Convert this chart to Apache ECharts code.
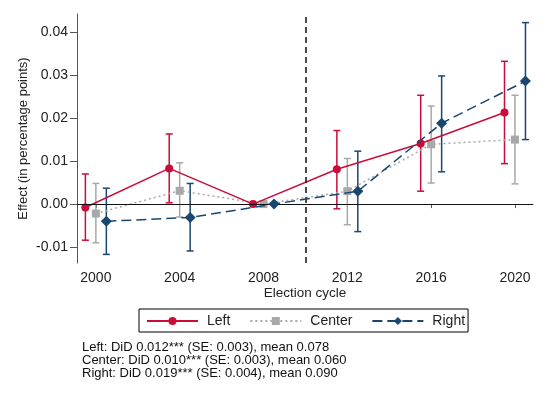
<!DOCTYPE html>
<html><head><meta charset="utf-8">
<script src="https://cdn.jsdelivr.net/npm/echarts@6/dist/echarts.min.js"></script>
<style>html,body{margin:0;padding:0;background:#fff}#c{width:548px;height:399px}</style>
</head><body><div id="c"></div>
<script>
const years = [2000, 2004, 2008, 2012, 2016, 2020];
const xTicks = [2000, 2004, 2008, 2012, 2016, 2020];
const yTicks = [-0.01, 0, 0.01, 0.02, 0.03, 0.04];
const leftEst = [-0.0008, 0.0083, 0.0000, 0.0081, 0.0141, 0.0213];
const leftLo  = [-0.0084, 0.0003, 0, -0.0011, 0.0030, 0.0094];
const leftHi  = [0.0070, 0.0163, 0, 0.0171, 0.0253, 0.0332];
const centerEst = [-0.0022, 0.0031, 0, 0.0030, 0.0139, 0.0150];
const centerLo  = [-0.0090, -0.0030, 0, -0.0048, 0.0049, 0.0047];
const centerHi  = [0.0048, 0.0096, 0, 0.0106, 0.0228, 0.0253];
const rightEst = [-0.0040, -0.0031, 0, 0.0030, 0.0188, 0.0286];
const rightLo  = [-0.0117, -0.0109, 0, -0.0064, 0.0075, 0.0150];
const rightHi  = [0.0037, 0.0048, 0, 0.0123, 0.0298, 0.0422];
const seriesNames = ['Left', 'Center', 'Right'];
const notes = [
  'Left: DiD 0.012*** (SE: 0.003), mean 0.078',
  'Center: DiD 0.010*** (SE: 0.003), mean 0.060',
  'Right: DiD 0.019*** (SE: 0.004), mean 0.090'
];
const treatYear = 2010;

const RED = '#c90d3a', GRAY = '#a8a8a8', BLUE = '#1a476f';
const FONT = '"Liberation Sans", Arial, sans-serif';
const offsets = [-0.5, 0, 0.5];

function pts(est, off) { return years.map((y, i) => [y + off, est[i]]); }
function bars(lo, hi, off) { return years.map((y, i) => [y + off, lo[i], hi[i]]); }

function errBar(color) {
  return function (params, api) {
    const x = api.value(0), lo = api.value(1), hi = api.value(2);
    if (lo === hi) return null;
    const a = api.coord([x, hi]), b = api.coord([x, lo]);
    const w = 3.5, st = { stroke: color, lineWidth: 1.5 };
    return { type: 'group', children: [
      { type: 'line', shape: { x1: a[0], y1: a[1], x2: b[0], y2: b[1] }, style: st },
      { type: 'line', shape: { x1: a[0] - w, y1: a[1], x2: a[0] + w, y2: a[1] }, style: st },
      { type: 'line', shape: { x1: b[0] - w, y1: b[1], x2: b[0] + w, y2: b[1] }, style: st }
    ]};
  };
}

const chart = echarts.init(document.getElementById('c'), null, { renderer: 'canvas' });
const axisColor = '#555';
const option = {
  animation: false,
  backgroundColor: '#fff',
  textStyle: { fontFamily: FONT },
  grid: { left: 77, right: 15, top: 14, bottom: 136 },
  xAxis: {
    type: 'value', min: 1999.1, max: 2020.86,
    name: 'Election cycle', nameLocation: 'middle', nameGap: 23, nameMoveOverlap: false,
    nameTextStyle: { fontSize: 13.5, color: '#222', fontFamily: FONT },
    axisLine: { show: true, lineStyle: { color: axisColor, width: 1 } },
    axisTick: { show: true, length: 4, customValues: xTicks, lineStyle: { color: axisColor } },
    axisLabel: { customValues: xTicks, fontSize: 14, color: '#222', margin: 8, fontFamily: FONT,
      formatter: v => String(v) },
    splitLine: { show: false }
  },
  yAxis: {
    type: 'value', min: -0.0137, max: 0.0442,
    name: 'Effect (in percentage points)', nameLocation: 'middle', nameGap: 47, nameRotate: 90,
    nameMoveOverlap: false,
    nameTextStyle: { fontSize: 13, color: '#222', fontFamily: FONT },
    axisLine: { show: true, lineStyle: { color: axisColor, width: 1 } },
    axisTick: { show: true, length: 7, customValues: yTicks, lineStyle: { color: axisColor } },
    axisLabel: { customValues: yTicks, fontSize: 14, color: '#222', margin: 9, fontFamily: FONT,
      formatter: v => v.toFixed(2) },
    splitLine: { show: false }
  },
  legend: {
    data: seriesNames,
    left: 139, top: 309,
    borderColor: '#000', borderWidth: 1, borderRadius: 0,
    padding: [5, 3, 4, 7],
    itemWidth: 51, itemHeight: 10, itemGap: 19,
    textStyle: { fontSize: 14, color: '#222', fontFamily: FONT, padding: [0, 0, 0, 4] }
  },
  graphic: notes.map((t, i) => ({
    type: 'text', left: 82, top: 340.5 + i * 13.3,
    style: { text: t, fontSize: 13, fill: '#111', fontFamily: FONT }
  })),
  series: [
    { type: 'custom', name: 'LeftCI', renderItem: errBar(RED), data: bars(leftLo, leftHi, offsets[0]), z: 2, silent: true },
    { type: 'custom', name: 'CenterCI', renderItem: errBar(GRAY), data: bars(centerLo, centerHi, offsets[1]), z: 2, silent: true },
    { type: 'custom', name: 'RightCI', renderItem: errBar(BLUE), data: bars(rightLo, rightHi, offsets[2]), z: 2, silent: true },
    { type: 'line', name: 'Left', data: pts(leftEst, offsets[0]), symbol: 'circle', symbolSize: 8,
      lineStyle: { color: RED, width: 1.5, type: 'solid' }, itemStyle: { color: RED }, z: 4,
      markLine: { silent: true, symbol: 'none', label: { show: false },
        data: [
          { yAxis: 0, lineStyle: { color: '#111', width: 1.2, type: 'solid' } },
          { xAxis: treatYear, lineStyle: { color: '#111', width: 1.5, type: [6, 4] } }
        ] } },
    { type: 'line', name: 'Center', data: pts(centerEst, offsets[1]), symbol: 'rect', symbolSize: 8,
      lineStyle: { color: GRAY, width: 1.5, type: [2, 3] }, itemStyle: { color: GRAY }, z: 3 },
    { type: 'line', name: 'Right', data: pts(rightEst, offsets[2]), symbol: 'diamond', symbolSize: 11,
      lineStyle: { color: BLUE, width: 1.5, type: [10, 5] }, itemStyle: { color: BLUE }, z: 5 }
  ]
};
chart.setOption(option);
</script></body></html>
